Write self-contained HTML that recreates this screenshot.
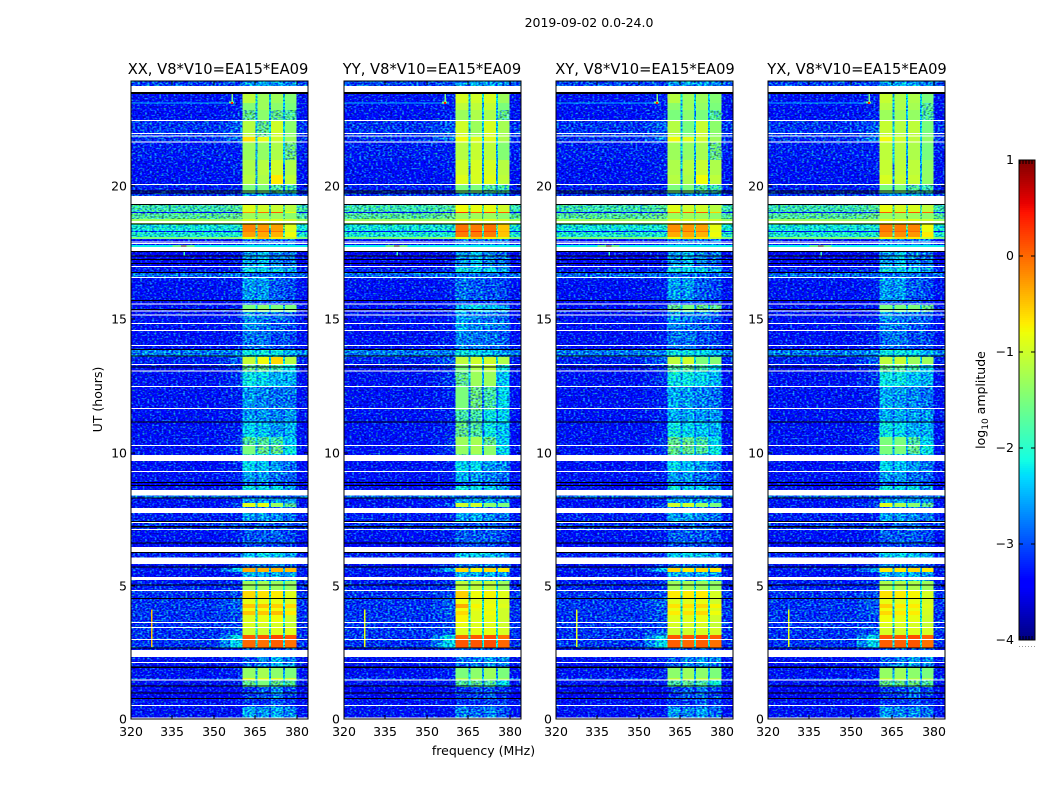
<!DOCTYPE html>
<html>
<head>
<meta charset="utf-8">
<title>Amplitude waterfall 2019-09-02</title>
<style>
html,body{margin:0;padding:0;background:#fff;width:1050px;height:800px;overflow:hidden}
svg{display:block}
text{font-family:"DejaVu Sans","Liberation Sans",sans-serif;fill:#000}
</style>
</head>
<body>
<svg id="figure" xmlns="http://www.w3.org/2000/svg" width="1050" height="800" viewBox="0 0 1050 800">
<defs>
<filter id="speckle" x="0" y="0" width="1" height="1" color-interpolation-filters="sRGB">
<feTurbulence type="fractalNoise" baseFrequency="0.42 0.6" numOctaves="1" seed="4" result="n"/>
<feColorMatrix in="n" type="matrix" values="0.8 0 0 0 0.02  2.2 0 0 0 -0.71  0 1.5 0 0 -0.25  0 0 0 0 1" result="c"/>
<feComposite in="SourceGraphic" in2="c" operator="arithmetic" k1="0" k2="1" k3="1" k4="-0.5"/>
</filter>
</defs>
<text x="589" y="27" font-size="12.5" text-anchor="middle">2019-09-02 0.0-24.0</text>
<text x="218" y="74" font-size="14.7" text-anchor="middle">XX, V8*V10=EA15*EA09</text>
<text x="432" y="74" font-size="14.7" text-anchor="middle">YY, V8*V10=EA15*EA09</text>
<text x="645" y="74" font-size="14.7" text-anchor="middle">XY, V8*V10=EA15*EA09</text>
<text x="857" y="74" font-size="14.7" text-anchor="middle">YX, V8*V10=EA15*EA09</text>
<text x="483.5" y="755" font-size="12.5" text-anchor="middle">frequency (MHz)</text>
<text transform="translate(102,399.5) rotate(-90)" font-size="12.5" text-anchor="middle">UT (hours)</text>
<text transform="translate(985,400) rotate(-90)" font-size="12.5" text-anchor="middle">log<tspan font-size="9" dy="3">10</tspan><tspan dy="-3"> amplitude</tspan></text>
<g id="panels"></g>
<g id="colorbar"></g>
</svg>
<script>
const xTicks = [320, 335, 350, 365, 380];
const yTicks = [0, 5, 10, 15, 20];
const colorTicks = [1, 0, -1, -2, -3, -4];
const freqEdges = [320, 352, 356, 360.4, 365.0, 365.7, 369.9, 370.6, 374.9, 375.6, 379.8, 384];
const rowEdges = [0,.45,.75,1.20,1.46,1.54,1.91,2.33,2.66,2.96,3.15,3.41,3.64,3.90,4.05,4.17,4.32,4.54,4.80,5.18,5.52,5.67,5.82,6.27,6.60,7.09,7.39,7.73,7.95,8.10,8.29,8.56,8.74,8.89,9.27,9.68,9.94,10.24,10.58,11.11,11.59,12.46,13.02,13.28,13.58,13.85,14.56,14.97,15.27,15.53,15.69,16.55,16.74,16.92,17.52,17.79,18.01,18.09,18.27,18.31,18.57,18.76,18.99,19.03,19.29,19.74,20.04,20.41,20.98,21.65,21.84,22.48,22.85,23.11,23.45,23.75,23.94];
const backgroundLevels = [-3.2,-3.2,-3.3,-3.2,-2.9,-3.2,-3.2,-3.2,-3.0,-3.0,-3.0,-3.0,-3.0,-3.0,-3.0,-3.0,-3.0,-3.0,-3.1,-3.2,-3.1,-3.2,-3.1,-3.3,-3.2,-3.0,-3.1,-3.2,-3.2,-3.2,-2.7,-3.2,-3.3,-3.2,-3.2,-3.2,-3.2,-3.2,-3.2,-3.2,-3.2,-3.2,-3.2,-3.1,-2.65,-3.2,-3.2,-3.2,-3.2,-3.3,-3.2,-2.75,-3.1,-3.3,-3.3,-3.2,-1.5,-2.0,-3.2,-2.05,-1.3,-1.7,-3.3,-1.8,-3.0,-3.1,-3.2,-3.2,-3.1,-3.0,-3.0,-3.2,-3.2,-3.2,-3.2,-2.9];
const shoulderLevels = [-3.2,-3.2,-3.3,-3.1,-2.9,-3.1,-3.1,-3.1,-2.2,-2.2,-2.8,-2.9,-2.9,-2.8,-2.8,-2.8,-2.8,-2.9,-3.0,-3.1,-2.4,-3.1,-3.0,-3.2,-3.1,-2.9,-3.1,-3.1,-2.9,-3.1,-2.7,-3.1,-3.3,-3.1,-3.1,-3.1,-3.0,-3.0,-3.1,-3.1,-3.1,-3.0,-3.0,-2.8,-2.6,-3.1,-3.1,-3.1,-3.1,-3.3,-3.1,-2.7,-3.0,-3.2,-3.3,-3.2,-1.4,-2.0,-3.2,-2.0,-1.3,-1.6,-3.3,-1.7,-3.0,-3.1,-3.2,-3.1,-3.1,-2.7,-2.8,-3.1,-3.1,-3.1,-3.2,-2.9];
const gapLevels = [-2.9,-3.0,-3.1,-2.5,-2.3,-2.5,-2.9,-2.9,-2.0,-2.0,-2.0,-2.1,-2.1,-2.0,-2.0,-2.0,-2.0,-2.1,-2.2,-2.8,-2.4,-2.9,-2.6,-3.0,-2.9,-2.8,-2.8,-2.8,-2.4,-2.8,-2.6,-2.8,-3.0,-2.8,-2.7,-2.6,-2.4,-2.3,-2.6,-2.8,-2.7,-2.4,-2.4,-2.2,-2.4,-2.7,-2.7,-2.8,-2.4,-3.0,-2.8,-2.6,-2.7,-2.9,-3.1,-2.9,-1.2,-1.8,-2.4,-1.6,-1.2,-1.6,-2.5,-1.7,-2.8,-2.5,-2.5,-2.5,-2.4,-2.2,-2.3,-2.4,-2.4,-2.2,-2.8,-2.7];
const ampXX = [
[-2.2,-2.3,-2.2,-2.4],[-2.8,-2.8,-2.6,-2.8],[-2.8,-2.6,-2.4,-2.7],[-1.6,-1.5,-1.6,-1.7],[-.9,-.9,-.9,-1.0],[-1.35,-1.25,-1.4,-1.5],[-2.6,-2.4,-2.2,-2.4],[-2.6,-2.6,-2.6,-2.6],
[0,-.05,.05,-.05],[.1,.1,.2,.1],[-1.0,-1.0,-.9,-.9],[-.95,-.95,-.95,-1.05],[-.9,-.85,-.8,-1.0],[-.5,-.5,-.45,-.7],[-.8,-.8,-.8,-.9],[-.5,-.5,-.55,-.6],[-.85,-.85,-.85,-.95],[-.6,-.65,-.7,-.9],[-1.3,-1.25,-1.3,-1.35],[-2.2,-2.2,-2.2,-2.3],
[-.35,-.4,-.4,-.45],[-2.5,-2.5,-2.5,-2.6],[-2.1,-2.0,-2.1,-2.3],[-2.7,-2.7,-2.7,-2.8],[-2.6,-2.6,-2.6,-2.7],[-2.7,-2.6,-2.6,-2.7],[-2.3,-2.3,-2.4,-2.5],[-2.5,-2.5,-2.5,-2.6],[-.9,-.85,-1.3,-1.6],[-2.3,-2.3,-2.3,-2.3],[-2.6,-2.6,-2.6,-2.6],[-1.9,-2.0,-2.0,-2.3],[-2.7,-2.7,-2.7,-2.8],[-2.3,-2.3,-2.5,-2.6],[-2.0,-2.1,-2.3,-2.5],[-1.8,-1.9,-2.1,-2.1],
[-1.5,-1.6,-1.6,-1.9],[-1.7,-1.7,-1.8,-2.1],[-2.0,-2.1,-2.3,-2.2],[-2.3,-2.3,-2.4,-2.3],[-2.3,-2.4,-2.5,-2.5],[-1.9,-2.0,-2.2,-2.2],[-1.6,-1.6,-1.8,-2.0],[-1.05,-.8,-.6,-1.15],[-1.9,-1.9,-1.9,-2.2],[-2.5,-2.5,-2.7,-2.7],[-2.4,-2.5,-2.6,-2.7],[-2.3,-2.4,-2.5,-2.6],[-1.5,-1.4,-1.5,-1.5],[-2.7,-2.7,-2.7,-2.8],[-2.3,-2.3,-2.6,-2.7],[-2.5,-2.5,-2.5,-2.6],[-1.9,-2.0,-2.0,-2.2],[-2.3,-2.1,-2.4,-2.5],[-2.9,-2.9,-2.9,-2.9],[-2.5,-2.5,-2.5,-2.5],
[-.8,-.5,-.7,-1.0],[-.3,-.35,-.4,-.8],[-.1,0,-.05,-1.0],[-.15,-.25,-.3,-.9],[-.9,-.9,-.9,-1.0],[-1.3,-1.3,-1.3,-1.4],[-.2,0,.1,-.8],[-.9,-1.0,-1.05,-1.15],[-2.3,-2.3,-2.3,-2.4],[-1.5,-1.5,-1.7,-1.8],[-1.15,-1.2,-.7,-1.1],[-1.2,-1.15,-1.0,-1.2],[-1.3,-1.35,-1.2,-1.55],[-.65,-.85,-1.0,-1.3],[-1.15,-1.6,-1.0,-1.4],[-1.6,-1.4,-1.6,-1.7],[-1.45,-1.3,-1.4,-1.5],[-1.1,-1.3,-1.3,-1.45],[-2.2,-2.2,-2.2,-2.3],[-2.3,-2.2,-2.3,-2.4]];
const ampYY = [
[-2.4,-2.5,-2.4,-2.6],[-2.8,-2.8,-2.7,-2.8],[-2.8,-2.7,-2.6,-2.8],[-1.7,-1.6,-1.7,-2.0],[-1.2,-1.2,-1.3,-1.3],[-1.5,-1.4,-1.3,-1.5],[-2.5,-2.4,-2.3,-2.4],[-2.6,-2.6,-2.6,-2.6],
[.1,.1,.15,0],[0,.1,.15,-.05],[-.9,-.85,-.85,-.95],[-.85,-.9,-.9,-1.0],[-.75,-.9,-.85,-1.0],[-.6,-.9,-.8,-1.0],[-.8,-.85,-.85,-1.0],[-.35,-.75,-.8,-.9],[-.8,-.9,-.85,-.95],[-.55,-.8,-.75,-.9],[-1.1,-1.1,-1.1,-1.3],[-2.2,-2.2,-2.2,-2.3],
[-.6,-.75,-.6,-.7],[-2.5,-2.5,-2.5,-2.6],[-2.1,-2.0,-2.1,-2.3],[-2.7,-2.7,-2.7,-2.8],[-2.6,-2.6,-2.6,-2.7],[-2.7,-2.6,-2.6,-2.7],[-2.3,-2.2,-2.4,-2.5],[-2.5,-2.5,-2.5,-2.6],[-1.0,-1.0,-1.4,-1.5],[-2.3,-2.3,-2.3,-2.3],[-2.6,-2.6,-2.6,-2.6],[-1.9,-2.0,-2.0,-2.3],[-2.7,-2.7,-2.7,-2.8],[-2.2,-2.3,-2.4,-2.5],[-2.0,-2.0,-2.3,-2.4],[-1.6,-1.5,-1.4,-2.1],
[-1.35,-1.25,-1.4,-2.0],[-1.3,-1.25,-1.6,-2.1],[-1.6,-1.7,-1.9,-2.1],[-1.75,-1.75,-1.9,-2.0],[-1.5,-1.55,-1.75,-2.0],[-1.6,-1.3,-1.3,-2.1],[-1.5,-1.2,-1.1,-1.9],[-1.1,-1.0,-1.0,-1.2],[-1.9,-2.0,-2.1,-2.3],[-2.4,-2.5,-2.5,-2.6],[-2.2,-2.4,-2.4,-2.5],[-2.3,-2.4,-2.5,-2.6],[-2.1,-2.0,-2.1,-2.2],[-2.7,-2.7,-2.7,-2.8],[-2.5,-2.6,-2.7,-2.7],[-2.5,-2.5,-2.5,-2.6],[-1.9,-2.0,-2.0,-2.2],[-2.3,-2.1,-2.4,-2.5],[-2.9,-2.9,-2.9,-2.9],[-2.5,-2.5,-2.5,-2.5],
[-.8,-.5,-.7,-.9],[-.1,-.1,-.1,-.5],[.2,.3,.2,-.4],[-.05,-.1,-.05,-.5],[-.9,-.9,-.9,-1.0],[-1.3,-1.3,-1.3,-1.4],[.3,.1,.2,.1],[-.8,-.85,-.85,-1.0],[-2.3,-2.3,-2.3,-2.4],[-1.5,-1.5,-1.7,-1.8],[-.9,-.95,-.9,-1.1],[-1.0,-.95,-.95,-1.15],[-1.15,-1.05,-1.1,-1.45],[-.8,-.9,-.9,-1.2],[-1.0,-1.3,-.95,-1.25],[-1.3,-1.2,-1.2,-1.6],[-1.1,-1.1,-1.05,-1.5],[-.95,-1.0,-.95,-1.3],[-2.2,-2.2,-2.2,-2.3],[-2.3,-2.2,-2.3,-2.4]];
const ampXY = [
[-2.3,-2.4,-2.3,-2.5],[-2.8,-2.8,-2.6,-2.8],[-2.8,-2.6,-2.5,-2.7],[-1.7,-1.6,-1.7,-1.9],[-1.1,-1.1,-1.1,-1.2],[-1.4,-1.3,-1.4,-1.5],[-2.6,-2.4,-2.3,-2.4],[-2.6,-2.6,-2.6,-2.6],
[.05,0,.05,-.05],[.1,.1,.15,.05],[-1.0,-1.0,-.95,-.95],[-.95,-.95,-.95,-1.05],[-.9,-.9,-.85,-1.0],[-.7,-.65,-.6,-.8],[-.85,-.85,-.85,-.95],[-.65,-.65,-.6,-.75],[-.9,-.9,-.85,-1.0],[-.7,-.7,-.7,-.95],[-1.3,-1.25,-1.3,-1.35],[-2.2,-2.2,-2.2,-2.3],
[-.6,-.7,-.6,-.7],[-2.5,-2.5,-2.5,-2.6],[-2.1,-2.0,-2.1,-2.3],[-2.7,-2.7,-2.7,-2.8],[-2.6,-2.6,-2.6,-2.7],[-2.7,-2.6,-2.6,-2.7],[-2.3,-2.3,-2.4,-2.5],[-2.5,-2.5,-2.5,-2.6],[-1.0,-1.0,-1.3,-1.5],[-2.3,-2.3,-2.3,-2.3],[-2.6,-2.6,-2.6,-2.6],[-1.9,-2.0,-2.0,-2.3],[-2.7,-2.7,-2.7,-2.8],[-2.3,-2.3,-2.5,-2.6],[-2.0,-2.1,-2.3,-2.5],[-1.8,-1.9,-2.1,-2.1],
[-1.6,-1.6,-1.7,-1.9],[-1.6,-1.6,-1.75,-2.0],[-1.9,-2.0,-2.1,-2.2],[-2.2,-2.2,-2.3,-2.3],[-2.2,-2.3,-2.4,-2.5],[-1.9,-1.9,-2.0,-2.2],[-1.7,-1.6,-1.8,-2.0],[-1.1,-1.0,-1.5,-1.45],[-1.9,-1.9,-2.0,-2.2],[-2.5,-2.5,-2.7,-2.7],[-2.4,-2.5,-2.6,-2.7],[-2.3,-2.4,-2.5,-2.6],[-1.6,-1.5,-1.6,-1.6],[-2.7,-2.7,-2.7,-2.8],[-2.3,-2.3,-2.6,-2.7],[-2.5,-2.5,-2.5,-2.6],[-1.9,-2.0,-2.0,-2.2],[-2.3,-2.1,-2.4,-2.5],[-2.9,-2.9,-2.9,-2.9],[-2.5,-2.5,-2.5,-2.5],
[-.8,-.6,-.7,-1.0],[-.35,-.35,-.4,-.8],[-.1,0,-.05,-.9],[-.2,-.25,-.3,-.85],[-.9,-.9,-.9,-1.0],[-1.3,-1.3,-1.3,-1.4],[-.1,.05,.1,-.5],[-.9,-1.0,-1.0,-1.15],[-2.3,-2.3,-2.3,-2.4],[-1.5,-1.5,-1.7,-1.8],[-1.15,-1.2,-.8,-1.1],[-1.2,-1.15,-1.05,-1.2],[-1.3,-1.35,-1.25,-1.55],[-.8,-.9,-1.0,-1.3],[-1.15,-1.5,-1.05,-1.4],[-1.5,-1.4,-1.5,-1.7],[-1.4,-1.3,-1.35,-1.5],[-1.15,-1.3,-1.3,-1.45],[-2.2,-2.2,-2.2,-2.3],[-2.3,-2.2,-2.3,-2.4]];
const ampYX = [
[-2.3,-2.4,-2.4,-2.5],[-2.8,-2.8,-2.7,-2.8],[-2.8,-2.7,-2.5,-2.7],[-1.6,-1.6,-1.6,-1.7],[-1.1,-1.1,-1.2,-1.2],[-1.35,-1.3,-1.4,-1.5],[-2.6,-2.4,-2.3,-2.4],[-2.6,-2.6,-2.6,-2.6],
[.05,.05,.1,-.05],[.1,.1,.15,.05],[-.95,-.95,-.9,-.95],[-.9,-.95,-.95,-1.05],[-.8,-.85,-.85,-1.0],[-.6,-.7,-.7,-.95],[-.8,-.85,-.85,-.95],[-.55,-.7,-.7,-.9],[-.85,-.9,-.85,-.95],[-.65,-.7,-.75,-.95],[-1.2,-1.2,-1.2,-1.3],[-2.2,-2.2,-2.2,-2.3],
[-.7,-.7,-.6,-.7],[-2.5,-2.5,-2.5,-2.6],[-2.1,-2.0,-2.1,-2.3],[-2.7,-2.7,-2.7,-2.8],[-2.6,-2.6,-2.6,-2.7],[-2.7,-2.6,-2.6,-2.7],[-2.3,-2.3,-2.4,-2.5],[-2.5,-2.5,-2.5,-2.6],[-.9,-1.2,-1.4,-1.6],[-2.3,-2.3,-2.3,-2.3],[-2.6,-2.6,-2.6,-2.6],[-1.9,-2.0,-2.0,-2.3],[-2.7,-2.7,-2.7,-2.8],[-2.3,-2.3,-2.5,-2.6],[-2.0,-2.1,-2.3,-2.5],[-1.8,-1.9,-2.1,-2.1],
[-1.5,-1.5,-1.6,-1.9],[-1.5,-1.5,-1.7,-2.0],[-1.9,-2.0,-2.2,-2.2],[-2.2,-2.2,-2.3,-2.3],[-2.2,-2.3,-2.4,-2.5],[-1.9,-1.9,-2.1,-2.2],[-1.6,-1.6,-1.8,-2.0],[-1.1,-1.05,-1.3,-1.3],[-1.9,-1.9,-2.0,-2.2],[-2.5,-2.5,-2.7,-2.7],[-2.4,-2.5,-2.6,-2.7],[-2.3,-2.4,-2.5,-2.6],[-1.5,-1.5,-1.5,-1.6],[-2.7,-2.7,-2.7,-2.8],[-2.3,-2.3,-2.6,-2.7],[-2.5,-2.5,-2.5,-2.6],[-1.9,-2.0,-2.0,-2.2],[-2.3,-2.1,-2.4,-2.5],[-2.9,-2.9,-2.9,-2.9],[-2.5,-2.5,-2.5,-2.5],
[-.8,-.6,-.7,-1.0],[-.2,-.2,-.25,-.7],[0,.05,0,-.9],[-.1,-.1,-.15,-.8],[-.9,-.9,-.9,-1.0],[-1.3,-1.3,-1.3,-1.4],[.1,.1,.15,.05],[-.85,-.95,-.95,-1.1],[-2.3,-2.3,-2.3,-2.4],[-1.5,-1.5,-1.7,-1.8],[-.95,-1.05,-1.05,-1.35],[-1.05,-1.1,-1.1,-1.35],[-1.1,-1.15,-1.2,-1.5],[-.8,-1.0,-1.1,-1.35],[-1.05,-1.15,-1.1,-1.5],[-1.3,-1.3,-1.35,-1.7],[-1.15,-1.2,-1.25,-1.65],[-1.05,-1.2,-1.2,-1.5],[-2.2,-2.2,-2.2,-2.3],[-2.3,-2.2,-2.3,-2.4]];
const flaggedWhite = [[.02,.06],[.49,.53],[1.44,1.48],[2.10,2.14],[2.33,2.59],[2.96,3.00],[3.41,3.45],[3.60,3.64],[4.80,4.84],[5.22,5.33],[5.82,6.06],[6.27,6.45],[7.09,7.13],[7.35,7.39],[7.73,7.92],[8.38,8.55],[8.57,8.60],[9.27,9.31],[9.68,9.91],[10.24,10.28],[11.63,11.67],[12.46,12.50],[13.04,13.08],[13.28,13.32],[14.0,14.04],[14.56,14.60],[14.82,14.86],[15.14,15.18],[15.29,15.33],[15.55,15.59],[16.55,16.59],[16.96,17.0],[17.56,17.71],[17.82,17.86],[17.88,17.92],[18.61,18.69],[19.32,19.62],[20.04,20.08],[21.63,21.67],[21.86,21.90],[21.95,21.99],[22.44,22.48],[23.53,23.75]];
const flaggedBlack = [[23.45,23.53],[19.72,19.76],[19.79,19.83],[19.29,19.32],[18.58,18.60],[17.53,17.56],[17.36,17.39],[17.22,17.26],[17.09,17.12],[16.74,16.77],[15.68,15.72],[15.35,15.38],[13.85,13.88],[13.61,13.64],[13.19,13.22],[11.13,11.16],[8.86,8.89],[8.75,8.78],[8.28,8.31],[7.40,7.43],[7.19,7.24],[6.59,6.62],[6.25,6.27],[5.69,5.72],[5.01,5.04],[4.51,4.54],[2.65,2.68],[1.91,1.97],[1.22,1.25],[.96,.99],[.75,.78]];
const rfiFeatures = [[320,384,17.71,17.79,-2.2],[320,358,23.10,23.14,-2.5],[355.5,357.3,23.10,23.18,-1.5],[356.3,356.8,23.1,23.45,-1.5],[356.2,356.9,23.08,23.15,.4],[335,343,17.73,17.77,-1.0],[338,340,17.73,17.77,.4],[338.9,339.5,17.40,17.52,-1.9]];
const burstFreq = [327.2, 327.7];
const burstUT = [2.7, 4.1];
const burstLevels = [-.45, -.85, -.85, -.85];
const colorLimits = [-4, 1];

const SVGNS = 'http://www.w3.org/2000/svg';
const plotTop = 81, plotBottom = 719, plotWidth = 177;
const freqMax = 384, freqMin = 320;
const panelLefts = [131, 344, 556, 768];
const panelNames = ['xx', 'yy', 'xy', 'yx'];
const panelAmps = [ampXX, ampYY, ampXY, ampYX];
const faintBandShift = -0.2;

function yScale(ut) { return plotBottom - ut * 26.65; }
function xScale(freq, left) { return left + (freq - freqMin) * plotWidth / (freqMax - freqMin); }
function ramp(t, pts) {
  for (let i = 1; i < pts.length; i++) {
    if (t <= pts[i][0]) {
      const a = pts[i - 1], b = pts[i];
      return a[1] + (b[1] - a[1]) * (t - a[0]) / (b[0] - a[0]);
    }
  }
  return pts[pts.length - 1][1];
}
function jet(level) {
  const t = Math.min(1, Math.max(0, (level - colorLimits[0]) / (colorLimits[1] - colorLimits[0])));
  const r = ramp(t, [[0, 0], [.35, 0], [.66, 1], [.89, 1], [1, .5]]);
  const g = ramp(t, [[0, 0], [.125, 0], [.375, 1], [.64, 1], [.91, 0], [1, 0]]);
  const b = ramp(t, [[0, .5], [.11, 1], [.34, 1], [.65, 0], [1, 0]]);
  return 'rgb(' + Math.round(r * 255) + ',' + Math.round(g * 255) + ',' + Math.round(b * 255) + ')';
}
function shape(tag, parent, attrs) {
  const node = document.createElementNS(SVGNS, tag);
  for (const k in attrs) node.setAttribute(k, attrs[k]);
  parent.appendChild(node);
  return node;
}
function drawRect(parent, f0, f1, u0, u1, left, fill) {
  const xa = xScale(f0, left), xb = xScale(f1, left), ya = yScale(u1), yb = yScale(u0);
  return shape('rect', parent, { x: xa.toFixed(2), y: ya.toFixed(2), width: (xb - xa).toFixed(2), height: Math.max(1, yb - ya).toFixed(2), fill: fill, 'shape-rendering': 'crispEdges' });
}
const panelsRoot = document.getElementById('panels');
panelLefts.forEach(function (left, p) {
  const panel = shape('g', panelsRoot, {});
  
  
  const noisy = shape('g', panel, { filter: 'url(#speckle)' });
  
  
  const smooth = shape('g', panel, {});
  
  
  const amps = panelAmps[p];
  for (let r = 0; r < rowEdges.length - 1; r++) {
    const bg = backgroundLevels[r], sh = shoulderLevels[r], gap = gapLevels[r], a = amps[r];
    const levels = [bg, (bg + sh) / 2, sh, a[0], gap, a[1], gap, a[2], gap, a[3], bg];
    for (let c = 0; c < levels.length; c++) {
      const isBand = c === 3 || c === 5 || c === 7 || c === 9;
      const host = levels[c] > -1.55 ? smooth : noisy;
      const shown = isBand && levels[c] < -1.85 ? levels[c] + faintBandShift : levels[c];
      const cell = drawRect(host, freqEdges[c], freqEdges[c + 1], rowEdges[r], rowEdges[r + 1], left, jet(shown));
      
      
    }
  }
  rfiFeatures.forEach(function (f) {
    const mark = drawRect(panel, f[0], f[1], f[2], f[3], left, jet(f[4]));
    
    
  });
  const burst = drawRect(panel, burstFreq[0], burstFreq[1], burstUT[0], burstUT[1], left, jet(burstLevels[p]));
  
  
  flaggedWhite.forEach(function (b) {
    const flag = drawRect(panel, freqMin, freqMax, b[0], b[1], left, '#fff');
    
    
  });
  flaggedBlack.forEach(function (b) {
    const flag = drawRect(panel, freqMin, freqMax, b[0], b[1], left, '#000');
    
    
  });
  const frame = shape('rect', panel, { x: left, y: plotTop, width: plotWidth, height: plotBottom - plotTop, fill: 'none', stroke: '#000', 'stroke-width': 1 });
  
  
  xTicks.forEach(function (v) {
    const x = Math.round(xScale(v, left));
    const t1 = shape('line', panel, { x1: x, x2: x, y1: plotBottom, y2: plotBottom - 4, stroke: '#000', 'stroke-width': 1 });
    
    
    const t2 = shape('line', panel, { x1: x, x2: x, y1: plotTop, y2: plotTop + 4, stroke: '#000', 'stroke-width': 1 });
    
    
    const lbl = shape('text', panel, { x: x, y: 736, 'font-size': 12.5, 'text-anchor': 'middle' });
    lbl.textContent = String(v);
    
    
  });
  yTicks.forEach(function (v) {
    const y = Math.round(yScale(v));
    const t1 = shape('line', panel, { x1: left, x2: left + 4, y1: y, y2: y, stroke: '#000', 'stroke-width': 1 });
    
    
    const t2 = shape('line', panel, { x1: left + plotWidth, x2: left + plotWidth - 4, y1: y, y2: y, stroke: '#000', 'stroke-width': 1 });
    
    
    const lbl = shape('text', panel, { x: left - 4, y: y + 4.5, 'font-size': 12.5, 'text-anchor': 'end' });
    lbl.textContent = String(v);
    
    
  });
});

const cbRoot = document.getElementById('colorbar');
const cbLeft = 1019, cbRight = 1035, cbTop = 160, cbBottom = 640;
function cbScale(level) { return cbBottom - (level - colorLimits[0]) * (cbBottom - cbTop) / (colorLimits[1] - colorLimits[0]); }
for (let y = cbTop; y < cbBottom; y += 2) {
  const level = colorLimits[0] + (cbBottom - y - 1) * (colorLimits[1] - colorLimits[0]) / (cbBottom - cbTop);
  const band = shape('rect', cbRoot, { x: cbLeft, y: y, width: cbRight - cbLeft, height: 2, fill: jet(level), 'shape-rendering': 'crispEdges' });
  
  
}
const cbFrame = shape('rect', cbRoot, { x: cbLeft, y: cbTop, width: cbRight - cbLeft, height: cbBottom - cbTop, fill: 'none', stroke: '#000', 'stroke-width': 1 });


colorTicks.forEach(function (v) {
  const y = Math.round(cbScale(v));
  const t1 = shape('line', cbRoot, { x1: cbLeft, x2: cbLeft + 4, y1: y, y2: y, stroke: '#000', 'stroke-width': 1 });
  
  
  const t2 = shape('line', cbRoot, { x1: cbRight, x2: cbRight - 4, y1: y, y2: y, stroke: '#000', 'stroke-width': 1 });
  
  
  const lbl = shape('text', cbRoot, { x: 1014, y: y + 4, 'font-size': 12.5, 'text-anchor': 'end' });
  lbl.textContent = v < 0 ? '\u2212' + Math.abs(v) : String(v);
  
  
});
for (let i = 0; i < 6; i++) {
  const x = cbLeft + 1 + i * 3;
  const t1 = shape('line', cbRoot, { x1: x, x2: x, y1: cbTop, y2: cbTop + 4, stroke: '#000', 'stroke-width': 1 });
  
  
  const t2 = shape('line', cbRoot, { x1: x, x2: x, y1: cbBottom, y2: cbBottom - 4, stroke: '#000', 'stroke-width': 1 });
  
  
  const dot = shape('rect', cbRoot, { x: x - 1, y: 646, width: 1, height: 1, fill: '#999' });
  
  
}
</script>
</body>
</html>
